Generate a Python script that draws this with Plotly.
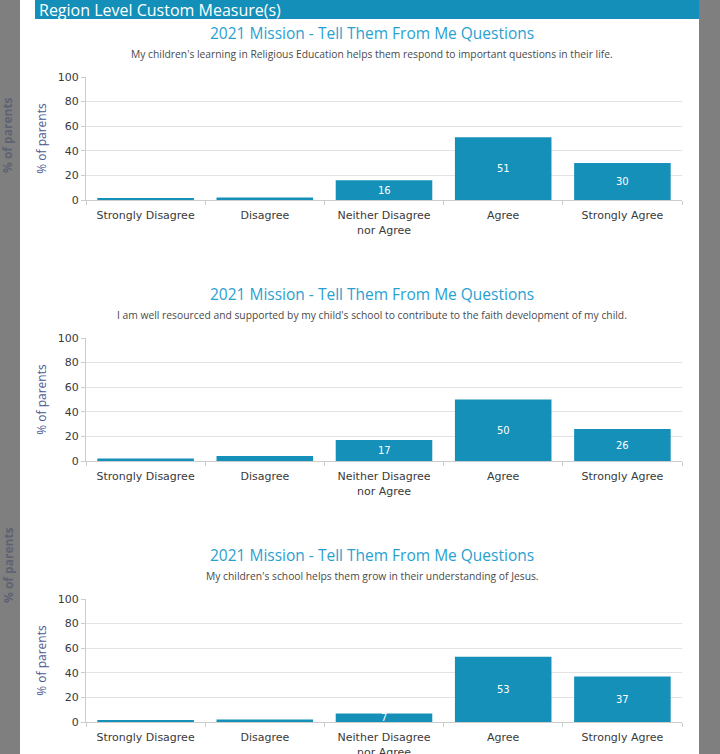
import plotly.graph_objects as go

W, H = 720, 754

categories = ["Strongly Disagree", "Disagree", "Neither Disagree<br>nor Agree", "Agree", "Strongly Agree"]
values_q1 = [1, 2, 16, 51, 30]
values_q2 = [2, 4, 17, 50, 26]
values_q3 = [1, 2, 7, 53, 37]
chart_title = "2021 Mission - Tell Them From Me Questions"
subtitles = [
    "My children's learning in Religious Education helps them respond to important questions in their life.",
    "I am well resourced and supported by my child's school to contribute to the faith development of my child.",
    "My children's school helps them grow in their understanding of Jesus.",
]
y_ticks = [0, 20, 40, 60, 80, 100]
header_text = "Region Level Custom Measure(s)"
axis_title = "% of parents"

series = [values_q1, values_q2, values_q3]

BAR = "#1590b9"
TITLE_C = "#2a9fd0"

def px(x):
    return x / W

def py(y):
    return 1 - y / H

fig = go.Figure()
annotations = []
shapes = []

# background panels
shapes.append(dict(type="rect", xref="paper", yref="paper", x0=0, x1=px(20), y0=0, y1=1,
                   fillcolor="#7f7f7f", line_width=0, layer="below"))
shapes.append(dict(type="rect", xref="paper", yref="paper", x0=px(699), x1=1, y0=0, y1=1,
                   fillcolor="#7f7f7f", line_width=0, layer="below"))
shapes.append(dict(type="rect", xref="paper", yref="paper", x0=px(35), x1=px(699), y0=py(19), y1=1,
                   fillcolor="#138fb9", line_width=0, layer="below"))
annotations.append(dict(xref="paper", yref="paper", x=px(37), y=py(10), text=header_text,
                        showarrow=False, xanchor="left", yanchor="middle",
                        font=dict(family="Open Sans", size=16, color="white")))
for yc in [135, 565]:
    annotations.append(dict(xref="paper", yref="paper", x=px(8), y=py(yc), text="<b>" + axis_title + "</b>",
                            showarrow=False, textangle=-90, xanchor="center", yanchor="middle",
                            font=dict(family="Open Sans", size=12, color="#5e6373")))

offset = 261
for i, vals in enumerate(series):
    k = i + 1
    xa = "x" if k == 1 else f"x{k}"
    ya = "y" if k == 1 else f"y{k}"
    y0 = 200 + offset * i
    y100 = 77 + offset * i
    fig.add_trace(go.Bar(x=categories, y=vals, xaxis=xa, yaxis=ya, marker_color=BAR,
                         marker_line_width=0, hoverinfo="x+y", showlegend=False))
    for c, v in zip(categories, vals):
        if v >= 5:
            annotations.append(dict(xref=xa, yref=ya, x=c, y=v / 2, text=str(v), showarrow=False,
                                    font=dict(family="DejaVu Sans", size=10, color="white")))
    axkey = "xaxis" if k == 1 else f"xaxis{k}"
    aykey = "yaxis" if k == 1 else f"yaxis{k}"
    fig.update_layout(**{
        axkey: dict(domain=[px(86), px(682)], anchor=ya, type="category", automargin=False,
                    tickson="boundaries", ticks="outside", ticklen=4, tickcolor="#cccccc",
                    ticklabelstandoff=5,
                    showline=True, linecolor="#cccccc", showgrid=False,
                    tickfont=dict(family="DejaVu Sans", size=11, color="#3a3a3a")),
        aykey: dict(domain=[py(y0), py(y100)], anchor=xa, range=[0, 100], tickvals=y_ticks,
                    automargin=False,
                    ticks="outside", ticklen=4, tickcolor="#cccccc", showline=True,
                    linecolor="#cccccc", gridcolor="#e3e3e3", zeroline=False,
                    tickfont=dict(family="DejaVu Sans", size=11, color="#3a3a3a"),
                    title=dict(text=axis_title, standoff=8,
                               font=dict(family="Open Sans", size=12, color="#4b5a94"))),
    })
    annotations.append(dict(xref="paper", yref="paper", x=px(372), y=py(33 + offset * i), text=chart_title,
                            showarrow=False, xanchor="center", yanchor="middle",
                            font=dict(family="Open Sans", size=15.5, color=TITLE_C)))
    annotations.append(dict(xref="paper", yref="paper", x=px(372), y=py(54 + offset * i), text=subtitles[i],
                            showarrow=False, xanchor="center", yanchor="middle",
                            font=dict(family="Open Sans", size=10.3, color="#4a4a4a")))

fig.update_layout(width=W, height=H, margin=dict(l=0, r=0, t=0, b=0, autoexpand=False),
                  paper_bgcolor="white", plot_bgcolor="white", bargap=0.19,
                  annotations=annotations, shapes=shapes)

fig.write_html("out.html", config={"displayModeBar": False},
               post_script="document.body.style.margin='0';document.body.style.overflow='hidden';"
                           "document.documentElement.style.overflow='hidden';")
